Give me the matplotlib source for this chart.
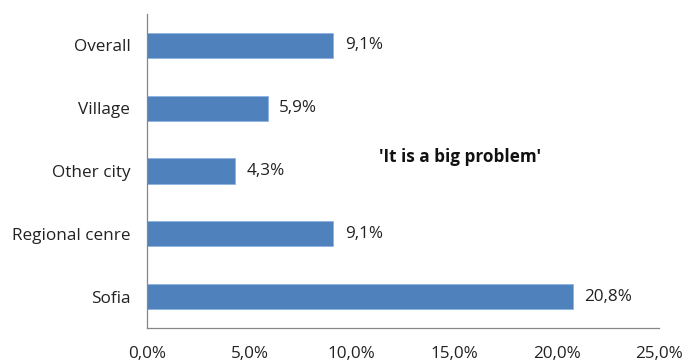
import matplotlib.pyplot as plt

# Daten
categories = ['Overall', 'Village', 'Other city', 'Regional cenre', 'Sofia']
values = [9.1, 5.9, 4.3, 9.1, 20.8]
xticks = [0, 5, 10, 15, 20, 25]

plt.rcParams['font.family'] = ['Open Sans', 'DejaVu Sans']
fs = 12.3

fig = plt.figure(figsize=(6.87, 3.61), dpi=100)
ax = fig.add_axes([147 / 687, 33 / 361, 512 / 687, 314 / 361])

y = list(range(len(categories)))
ax.barh(y, values, height=0.4, color='#4F81BD', edgecolor='#8EB4E3', linewidth=0.6)

for yi, v in zip(y, values):
    ax.text(v + 0.55, yi, f"{v:.1f}%".replace('.', ','), va='center', ha='left',
            fontsize=fs, color='#222222')

ax.set_ylim(len(categories) - 0.5, -0.5)
ax.set_xlim(0, 25)
ax.set_yticks(y)
ax.set_yticklabels(categories, fontsize=fs, color='#222222')
ax.set_xticks(xticks)
ax.set_xticklabels([f"{t:.1f}%".replace('.', ',') for t in xticks], fontsize=fs, color='#222222')
ax.tick_params(axis='both', length=0)
ax.tick_params(axis='y', pad=12)
ax.tick_params(axis='x', pad=13)

for s in ['top', 'right']:
    ax.spines[s].set_visible(False)
for s in ['left', 'bottom']:
    ax.spines[s].set_color('#868686')
    ax.spines[s].set_linewidth(0.9)

ax.text(0.611, 0.545, "'It is a big problem'", transform=ax.transAxes,
        ha='center', va='center', fontsize=fs, fontweight='bold', color='#111111')

fig.savefig('out.png', dpi=100)
